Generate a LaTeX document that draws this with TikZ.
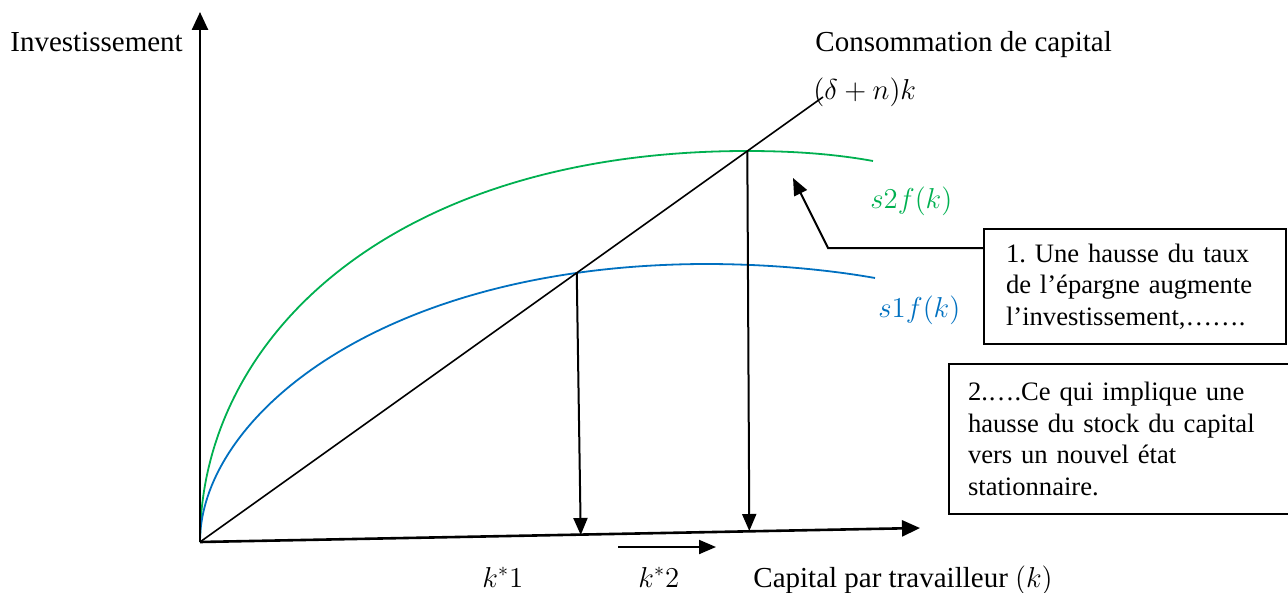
\documentclass[tikz,border=0pt]{standalone}
\usepackage{fontspec}
\setmainfont{Liberation Serif}
\usetikzlibrary{arrows.meta,intersections}
\definecolor{wgreen}{RGB}{0,176,80}
\definecolor{wblue}{RGB}{0,112,192}
\tikzset{
  axis/.style={line width=1.3pt,-{Triangle[length=9pt,width=8pt]}},
  varrow/.style={line width=1pt,-{Triangle[length=8.5pt,width=7pt]}},
  thin line/.style={line width=0.8pt},
  curve/.style={line width=0.9pt},
  lbl/.style={anchor=base west,inner sep=0pt},
  box/.style={draw,line width=1pt,anchor=north west,align=left,inner ysep=0pt,
    font=\fontsize{13.3}{15.75}\selectfont\frenchspacing}
}
\begin{document}
\begin{tikzpicture}[x=0.5pt,y=-0.5pt,font=\fontsize{14.5}{15.75}\selectfont]
\useasboundingbox (0,0) rectangle (1288,593);
% key points
\coordinate (O) at (200,542);
\coordinate (Ytop) at (200,12);
\coordinate (Xend) at (920,528);
\coordinate (L) at (823,97);
\coordinate (Lmid) at (300,470.6);
% curves
\draw[wgreen,curve,name path=green] (O) .. controls (200,335) and (395,151) .. (747,151)
  .. controls (800,151) and (840,155) .. (873,161);
\draw[wblue,curve,name path=blue] (O) .. controls (200,418) and (380,265) .. (705,264)
  .. controls (770,264) and (830,270) .. (875,278);
% line (delta+n)k
\draw[thin line] (O) -- (L);
\path[name path=cline] (Lmid) -- (L);
% equilibria
\path[name intersections={of=blue and cline,by={E1}}];
\path[name intersections={of=green and cline,by={E2}}];
% axes
\draw[axis] (O) -- (Ytop);
\draw[axis] (O) -- (Xend);
% feet of vertical arrows (on the x axis)
\coordinate (F1) at ([xshift=2pt]E1 |- 0,535);
\coordinate (F2) at ([xshift=1pt]E2 |- 0,531);
\draw[varrow] (E1) -- (F1);
\draw[varrow] (E2) -- (F2);
% small arrow
\coordinate (sa) at (618,547);
\coordinate (sb) at (716,547);
\draw[varrow] (sa) -- (sb);
% labels
\node[lbl] (inv) at (10,52) {Investissement};
\node[lbl] (cons) at (815,52) {Consommation de capital};
\node[lbl] (dn) at (813,100) {$(\delta+n)k$};
\node[lbl,text=wgreen] (s2) at (870,208) {$s2f(k)$};
\node[lbl,text=wblue] (s1) at (878,317) {$s1f(k)$};
\node[lbl] (k1) at (482,587) {$k^{*}1$};
\node[lbl] (k2) at (638,587) {$k^{*}2$};
\node[lbl] (cap) at (753,587) {Capital par travailleur $(k)$};
% boxes
\node[box,minimum width=151pt,minimum height=57.5pt,text width=129pt,inner xsep=11pt] (box1) at (983,228)
  {1. Une hausse du taux\\de l’épargne augmente\\l’investissement,…….};
\node[box,minimum width=174pt,minimum height=75pt,text width=155pt,inner xsep=9.5pt] (box2) at (948,363)
  {2.….Ce qui implique une\\hausse du stock du capital\\vers un nouvel état\\stationnaire.};
% callout arrow
\coordinate (cb) at (828,248);
\coordinate (ct) at (793,178);
\draw[varrow] ([yshift=-10pt]box1.north west) -- (cb) -- (ct);
\end{tikzpicture}
\end{document}
